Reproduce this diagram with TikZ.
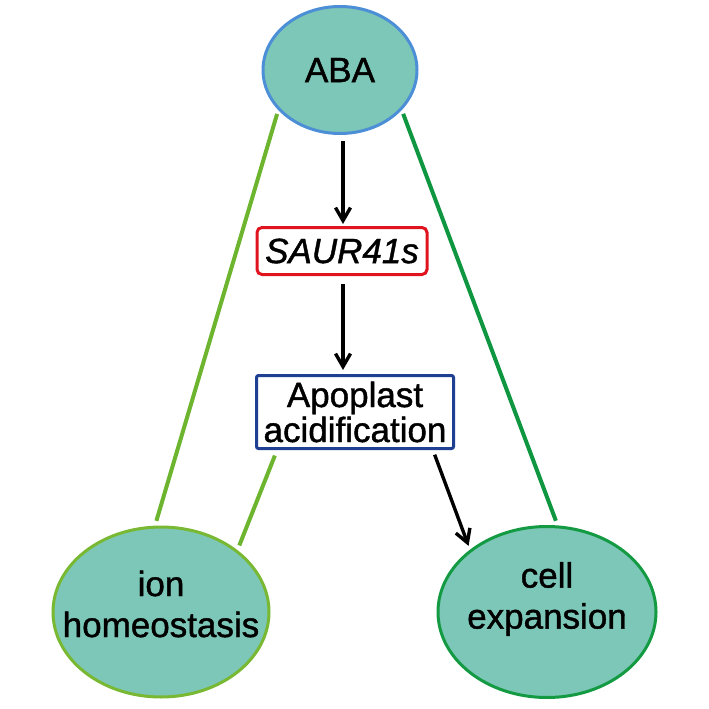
\documentclass[tikz,border=0pt]{standalone}
\usepackage{fontspec}
\setmainfont{Liberation Sans}
\newfontfamily\heavyfont{Liberation Sans}[UprightFeatures={FakeBold=1.2},ItalicFeatures={FakeBold=1.2}]
\usepackage{tikz}
\usetikzlibrary{shapes.geometric,arrows.meta,positioning,calc}

\definecolor{cellfill}{HTML}{7CC7B7}
\definecolor{ababorder}{HTML}{4D8FD6}
\definecolor{ionborder}{HTML}{78B832}
\definecolor{expborder}{HTML}{139A43}
\definecolor{saurred}{HTML}{E0141E}
\definecolor{apoblue}{HTML}{1F3F93}
\definecolor{lightline}{HTML}{6DB52E}
\definecolor{darkline}{HTML}{0E9640}

\begin{document}
\begin{tikzpicture}[
    x=1pt, y=-1pt,
    blob/.style={ellipse, draw, line width=3pt, fill=cellfill, inner sep=0pt},
    blobtext/.style={inner sep=0pt, align=center, font=\heavyfont\fontsize{35}{41}\selectfont},
    gene/.style={rectangle, draw, line width=3pt, fill=white, inner sep=0pt, align=center, font=\heavyfont\fontsize{35}{35}\selectfont},
    arrow/.style={-{Straight Barb[length=13pt,width=15pt,line width=3.4pt]}, line width=3.4pt},
    link/.style={line width=4pt}
]
    \useasboundingbox (0,0) rectangle (709,709);

    % Hormone
    \node[blob, draw=ababorder, minimum width=154, minimum height=127] (aba) at (340,70) {};
    \node[blobtext] (abatext) at (aba.center) {ABA};

    % Genes
    \node[gene, draw=saurred, rounded corners=5pt, minimum width=170, minimum height=47] (saur) at (342,251) {\itshape SAUR41s};

    % Apoplast
    \node[gene, draw=apoblue, rounded corners=2pt, minimum width=197, minimum height=73] (apo) at (355,412) {Apoplast\\acidification};

    % Outcomes
    \node[blob, draw=ionborder, minimum width=216, minimum height=170] (ion) at (161,612) {};
    \node[blobtext] (iontext) at ([yshift=8]ion.center) {ion\\homeostasis};
    \node[blob, draw=expborder, minimum width=218, minimum height=171] (exp) at (547,612) {};
    \node[blobtext] (exptext) at ([yshift=13]exp.center) {cell\\expansion};

    % Signalling chain
    \draw[arrow, shorten <=6pt, shorten >=2pt] ([xshift=3pt]aba.south) -- ([xshift=1pt]saur.north);
    \draw[arrow, shorten <=8pt, shorten >=4pt] ([xshift=1pt]saur.south) -- ([xshift=1pt]saur.south |- apo.north);
    \draw[arrow, shorten <=5pt, shorten >=4pt] (apo.334) -- (exp.141);

    % Links to ion homeostasis
    \draw[link, lightline, shorten <=4pt, shorten >=5pt] (aba.213) -- (ion.94);
    \draw[link, lightline, shorten <=6pt, shorten >=5pt] (apo.206) -- (ion.39);

    % Link to cell expansion
    \draw[link, darkline, shorten <=4pt, shorten >=5pt] (aba.327) -- (exp.83);

\end{tikzpicture}
\end{document}
